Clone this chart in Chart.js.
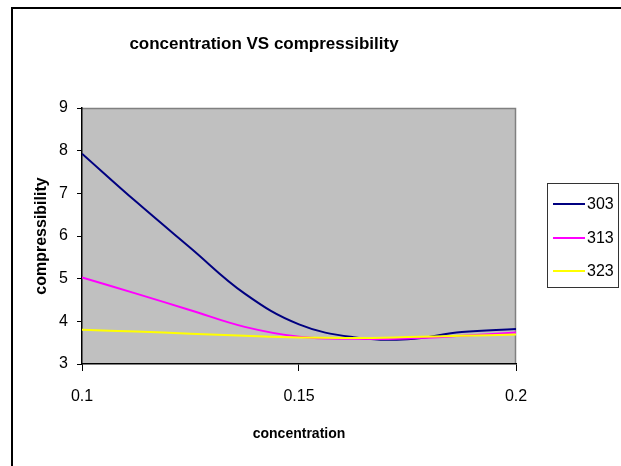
<!DOCTYPE html>
<html>
<head>
<meta charset="utf-8">
<script src="https://cdn.jsdelivr.net/npm/chart.js@4/dist/chart.umd.min.js"></script>
<style>
  html, body { margin: 0; padding: 0; background: #fff; }
  #wrap { position: relative; width: 621px; height: 466px; }
</style>
</head>
<body>
<div id="wrap"><canvas id="c" width="621" height="466"></canvas></div>
<script>
const chartTitle = 'concentration VS compressibility';
const xTitle = 'concentration';
const yTitle = 'compressibility';
const concentration = [0.1, 0.1125, 0.125, 0.1375, 0.15, 0.1625, 0.175, 0.1875, 0.2];
const seriesNames = ['303', '313', '323'];
const s303 = [7.93, 6.80, 5.72, 4.65, 3.93, 3.63, 3.58, 3.75, 3.82];
const s313 = [5.03, 4.65, 4.26, 3.87, 3.64, 3.59, 3.60, 3.66, 3.74];
const s323 = [3.80, 3.76, 3.71, 3.66, 3.62, 3.61, 3.63, 3.66, 3.69];
const seriesColors = ['#000080', '#FF00FF', '#FFFF00'];
const xTickLabels = ['0.1', '0.15', '0.2'];
const yTickLabels = ['3', '4', '5', '6', '7', '8', '9'];

const FONT = '"Liberation Sans", Arial, sans-serif';
const allSeries = [s303, s313, s323];

const bgPlugin = {
  id: 'bgPlugin',
  beforeDraw(chart) {
    const { ctx, chartArea: a } = chart;
    ctx.save();
    ctx.fillStyle = '#C0C0C0';
    ctx.fillRect(a.left, a.top, a.right - a.left, a.bottom - a.top);
    ctx.strokeStyle = '#808080';
    ctx.lineWidth = 1.5;
    ctx.beginPath();
    ctx.moveTo(a.left, a.top + 0.5);
    ctx.lineTo(a.right - 0.5, a.top + 0.5);
    ctx.lineTo(a.right - 0.5, a.bottom);
    ctx.stroke();
    // outer frame
    ctx.strokeStyle = '#000';
    ctx.lineWidth = 2;
    ctx.beginPath();
    ctx.moveTo(12, 470);
    ctx.lineTo(12, 8);
    ctx.lineTo(625, 8);
    ctx.stroke();
    ctx.restore();
  },
  afterDraw(chart) {
    const { ctx } = chart;
    ctx.save();
    const bx = 547, by = 183, bw = 71, bh = 104;
    ctx.fillStyle = '#fff';
    ctx.fillRect(bx, by, bw, bh);
    ctx.strokeStyle = '#333';
    ctx.lineWidth = 1;
    ctx.strokeRect(bx + 0.5, by + 0.5, bw, bh);
    const ys = [204, 238, 271];
    chart.data.datasets.forEach((ds, i) => {
      ctx.strokeStyle = ds.borderColor;
      ctx.lineWidth = 2;
      ctx.beginPath();
      ctx.moveTo(553, ys[i]);
      ctx.lineTo(585, ys[i]);
      ctx.stroke();
      ctx.fillStyle = '#000';
      ctx.font = '16px ' + FONT;
      ctx.textAlign = 'left';
      ctx.textBaseline = 'middle';
      ctx.fillText(ds.label, 587, ys[i] + 1);
    });
    ctx.restore();
  }
};

new Chart(document.getElementById('c'), {
  type: 'line',
  data: {
    datasets: allSeries.map((s, i) => ({
      label: seriesNames[i],
      data: concentration.map((x, j) => ({ x: x, y: s[j] })),
      borderColor: seriesColors[i],
      backgroundColor: seriesColors[i],
      borderWidth: 2,
      pointRadius: 0,
      tension: 0.4,
      fill: false,
      order: 3 - i
    }))
  },
  options: {
    responsive: false,
    animation: false,
    layout: { padding: { left: 12, right: 105, top: 0, bottom: 0 } },
    plugins: {
      legend: { display: false },
      tooltip: { enabled: false },
      title: {
        display: true,
        text: chartTitle,
        color: '#000',
        font: { family: FONT, size: 17, weight: 'bold', lineHeight: 1.2 },
        padding: { top: 34, bottom: 53.6 }
      }
    },
    scales: {
      x: {
        type: 'linear',
        min: 0.1,
        max: 0.2,
        afterFit(scale) { scale.height = 102; },
        afterBuildTicks(scale) {
          scale.ticks = xTickLabels.map(v => ({ value: parseFloat(v) }));
        },
        ticks: {
          color: '#000',
          font: { family: FONT, size: 16 },
          padding: 16,
          maxRotation: 0,
          autoSkip: false,
          callback: (v, i) => xTickLabels[i]
        },
        grid: { display: true, drawOnChartArea: false, drawTicks: true, tickLength: 7, color: '#000' },
        border: { display: true, color: '#000', width: 1.5 },
        title: {
          display: true,
          text: xTitle,
          color: '#000',
          font: { family: FONT, size: 14, weight: 'bold', lineHeight: 1.2 },
          padding: { top: 0, bottom: 23 }
        }
      },
      y: {
        type: 'linear',
        min: 3,
        max: 9,
        afterFit(scale) { scale.width = 70; },
        afterBuildTicks(scale) {
          scale.ticks = yTickLabels.map(v => ({ value: parseFloat(v) }));
        },
        ticks: {
          color: '#000',
          font: { family: FONT, size: 16 },
          padding: 9,
          callback: (v, i) => yTickLabels[i]
        },
        grid: { display: true, drawOnChartArea: false, drawTicks: true, tickLength: 5, color: '#000' },
        border: { display: true, color: '#000', width: 1.5 },
        title: {
          display: true,
          text: yTitle,
          color: '#000',
          font: { family: FONT, size: 16, weight: 'bold', lineHeight: 1.2 },
          padding: { top: 20, bottom: 0 }
        }
      }
    }
  },
  plugins: [bgPlugin]
});
</script>
</body>
</html>
